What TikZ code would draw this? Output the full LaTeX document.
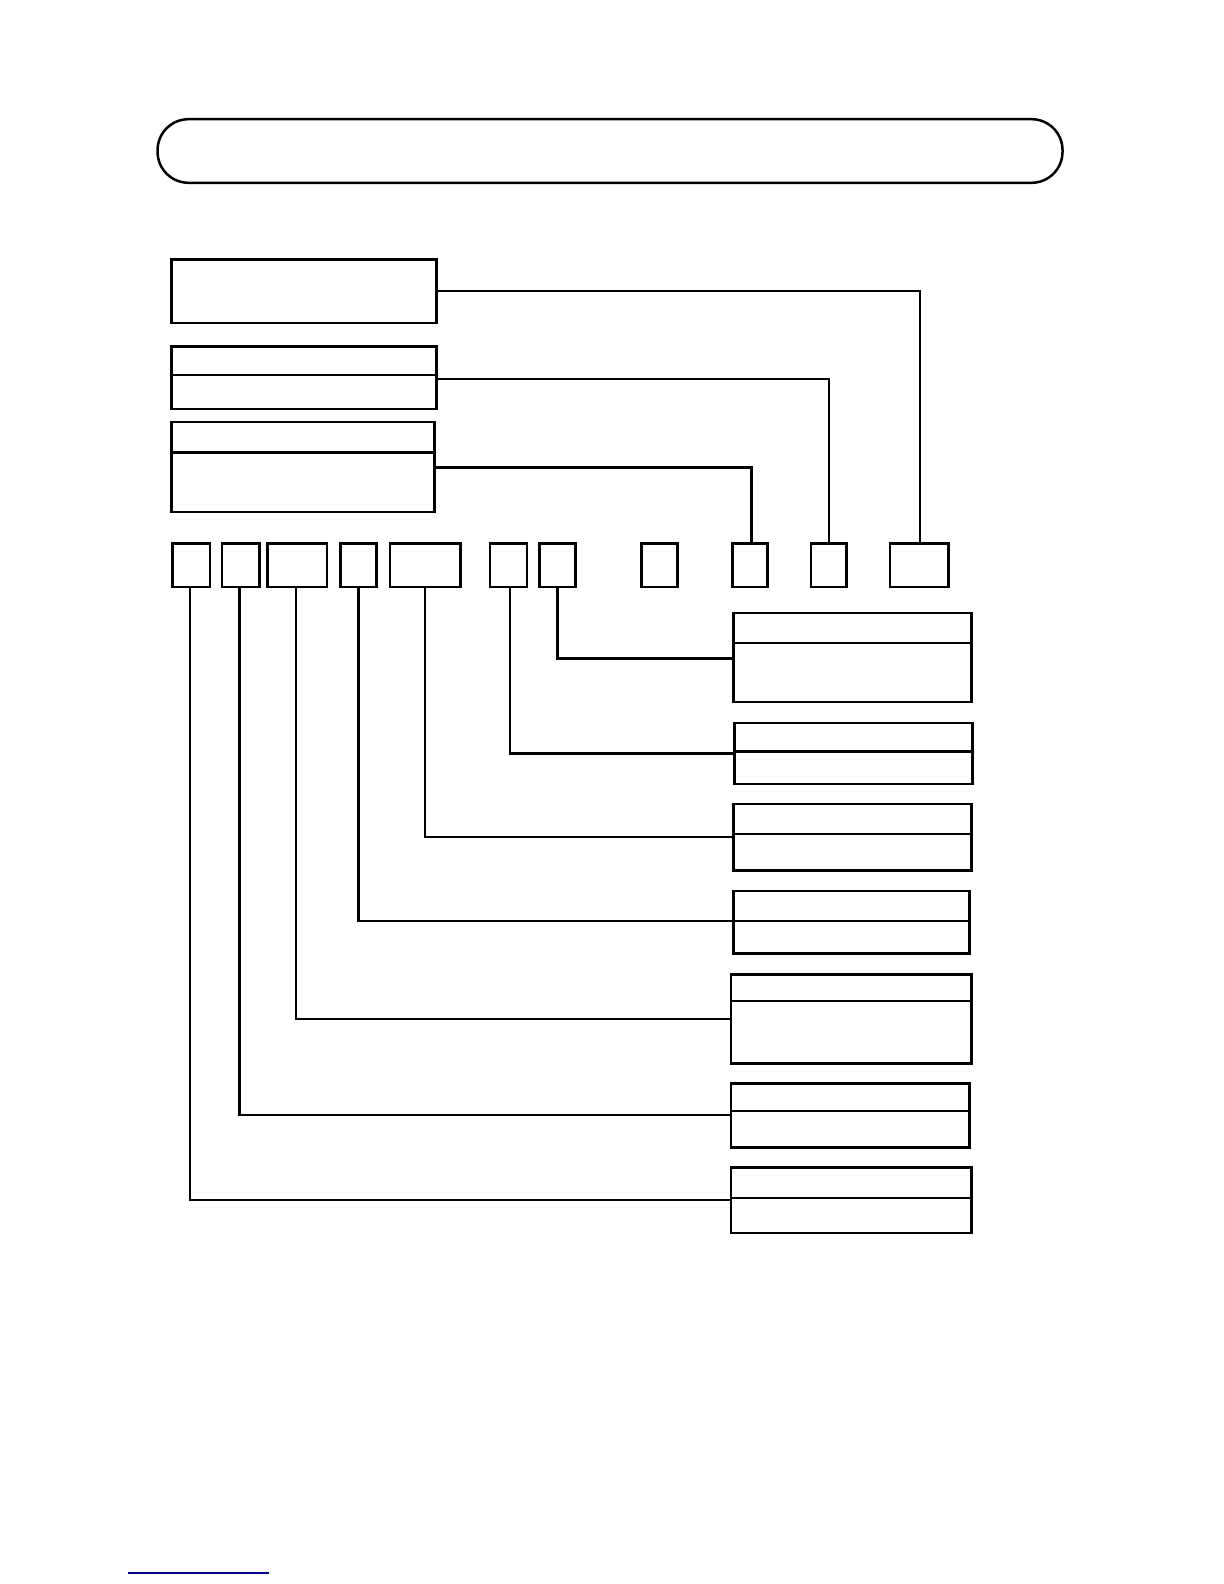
\documentclass[tikz,border=0pt]{standalone}
\begin{document}
\begin{tikzpicture}[x=0.505pt,y=-0.505pt,
  bx/.style={draw=black,line width=1.25pt},
  dv/.style={draw=black,line width=1.1pt},
  wire/.style={draw=black,line width=1.2pt}]
\useasboundingbox (0,0) rectangle (1211.88,1568.32);
\fill[white] (0,0) rectangle (1211.88,1568.32);
% title bar
\draw[bx,rounded corners=15.5pt] (156,118) rectangle (1052,181);
% left boxes
\draw[bx] (170,257) rectangle (432,320); \coordinate (la) at (432,288);
\draw[bx] (170,343) rectangle (432,405); \coordinate (lb) at (432,375);
\draw[dv] (170,371) -- (432,371);
\draw[bx] (170,418) rectangle (430,507); \coordinate (lc) at (430,463);
\draw[dv] (170,448) -- (430,448);
% small boxes
\foreach \n/\a/\b in {s1/171/208,s2/220/257,s3/265/324,s4/337/373,s5/386/456,s6/485/522,s7/534/570,s8/635/671,s9/725/760,s10/803/838,s11/881/939}{
  \draw[bx] (\a,538) rectangle (\b,581);
}
\coordinate (s9t) at (744,538);
\coordinate (s10t) at (821,538);
\coordinate (s11t) at (911,538);
\coordinate (s1b) at (188,581);
\coordinate (s2b) at (237,581);
\coordinate (s3b) at (293,581);
\coordinate (s4b) at (355,581);
\coordinate (s5b) at (421,581);
\coordinate (s6b) at (505,581);
\coordinate (s7b) at (552,581);
% connectors top
\draw[wire] (la) -| (s11t);
\draw[wire] (lb) -| (s10t);
\draw[wire] (lc) -| (s9t);
% right boxes
\draw[bx] (726,607) rectangle (962,695); \draw[dv] (726,637) -- (962,637); \coordinate (r1) at (726,652);
\draw[bx] (727,716) rectangle (963,776); \draw[dv] (727,744) -- (963,744); \coordinate (r2) at (727,746);
\draw[bx] (726,796) rectangle (962,862); \draw[dv] (726,826) -- (962,826); \coordinate (r3) at (726,829);
\draw[bx] (726,882) rectangle (960,944); \draw[dv] (726,912) -- (960,912); \coordinate (r4) at (726,912);
\draw[bx] (724,965) rectangle (962,1053); \draw[dv] (724,991) -- (962,991); \coordinate (r5) at (724,1009);
\draw[bx] (724,1073) rectangle (960,1136); \draw[dv] (724,1100) -- (960,1100); \coordinate (r6) at (724,1104);
\draw[bx] (724,1156) rectangle (962,1221); \draw[dv] (724,1186) -- (962,1186); \coordinate (r7) at (724,1188);
% connectors bottom
\draw[wire] (s7b) |- (r1);
\draw[wire] (s6b) |- (r2);
\draw[wire] (s5b) |- (r3);
\draw[wire] (s4b) |- (r4);
\draw[wire] (s3b) |- (r5);
\draw[wire] (s2b) |- (r6);
\draw[wire] (s1b) |- (r7);
% footer line
\draw[draw={rgb,255:red,0;green,0;blue,140},line width=1pt] (127,1557) -- (266,1557);
\end{tikzpicture}
\end{document}
